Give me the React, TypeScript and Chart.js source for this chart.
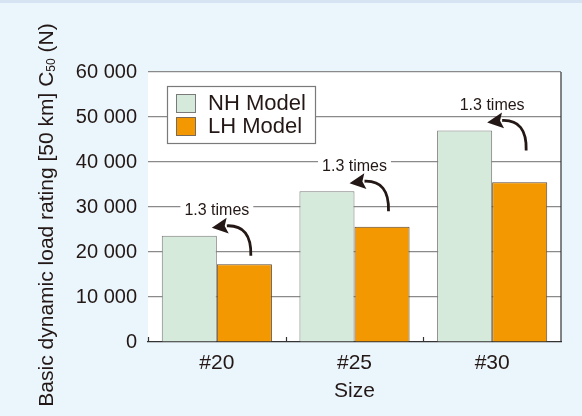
import React, { useEffect, useRef } from "react";
import { Chart, registerables } from "chart.js";

Chart.register(...registerables);

const categories = ["#20", "#25", "#30"];
const nhValues = [23600, 33500, 47000];
const lhValues = [17300, 25600, 35500];
const seriesNames = ["NH Model", "LH Model"];
const ratioLabels = ["1.3 times", "1.3 times", "1.3 times"];
const yTicks = [0, 10000, 20000, 30000, 40000, 50000, 60000];

const FONT = "'Liberation Sans', Arial, Helvetica, sans-serif";
const INK = "#231815";
const NH_FILL = "#d5eadb";
const LH_FILL = "#f39800";

function fmt(v: number): string {
  if (v === 0) return "0";
  return `${Math.round(v / 1000)} 000`;
}

const customPlugin = {
  id: "custom",
  beforeDraw(chart: any) {
    const { ctx, chartArea: a } = chart;
    ctx.save();
    ctx.fillStyle = "#ffffff";
    ctx.fillRect(a.left, a.top, a.right - a.left, a.bottom - a.top);
    ctx.restore();
  },
  afterDatasetsDraw(chart: any) {
    const { ctx, chartArea: a, scales } = chart;
    const xs = scales.x;
    const ys = scales.y;
    ctx.save();
    // right border
    ctx.strokeStyle = "#333333";
    ctx.lineWidth = 1.2;
    ctx.beginPath();
    ctx.moveTo(a.right, a.top);
    ctx.lineTo(a.right, a.bottom);
    ctx.stroke();
    // inner ticks at category boundaries
    for (let i = 0; i <= categories.length - 1; i++) {
      const x = Math.round(xs.getPixelForValue(i - 0.5)) + 0.5;
      ctx.beginPath();
      ctx.moveTo(x, a.bottom);
      ctx.lineTo(x, a.bottom - 5);
      ctx.stroke();
    }

    // annotations
    ctx.font = `16px ${FONT}`;
    ctx.textAlign = "center";
    ctx.textBaseline = "middle";
    for (let i = 0; i < categories.length; i++) {
      const cx = xs.getPixelForValue(i);
      const top = ys.getPixelForValue(nhValues[i]);
      const label = ratioLabels[i];
      const ty = top - 26;
      const w = ctx.measureText(label).width;
      ctx.fillStyle = "#ffffff";
      ctx.fillRect(cx - w / 2 - 4, ty - 8, w + 8, 16);
      ctx.fillStyle = INK;
      ctx.fillText(label, cx, ty + 1);

      // curved arrow
      const sx = cx + 34;
      const sy = top + 20;
      const ex = cx + 10;
      const ey = top - 10;
      ctx.strokeStyle = INK;
      ctx.lineWidth = 2.8;
      ctx.beginPath();
      ctx.moveTo(sx, sy);
      ctx.quadraticCurveTo(sx + 1, ey - 1, ex, ey);
      ctx.stroke();
      // arrowhead
      const tipX = cx - 5;
      const tipY = top - 8;
      const ang = Math.atan2(tipY - ey, tipX - ex);
      const L = 16;
      const W = 8;
      const bx = tipX - Math.cos(ang) * L;
      const by = tipY - Math.sin(ang) * L;
      ctx.fillStyle = INK;
      ctx.beginPath();
      ctx.moveTo(tipX, tipY);
      ctx.lineTo(bx - Math.sin(ang) * W, by + Math.cos(ang) * W);
      ctx.lineTo(bx + Math.cos(ang) * 3, by + Math.sin(ang) * 3);
      ctx.lineTo(bx + Math.sin(ang) * W, by - Math.cos(ang) * W);
      ctx.closePath();
      ctx.fill();
    }

    // legend box
    const lx = 167;
    const lyTop = 83;
    const lw = 148;
    const lh = 57;
    ctx.fillStyle = "#ffffff";
    ctx.fillRect(lx, lyTop, lw, lh);
    ctx.strokeStyle = "#7a7a7a";
    ctx.lineWidth = 1.2;
    ctx.strokeRect(lx + 0.5, lyTop + 0.5, lw, lh);
    const fills = [NH_FILL, LH_FILL];
    const borders = ["#7a7a7a", "#7a6a5a"];
    ctx.font = `22px ${FONT}`;
    ctx.textAlign = "left";
    ctx.textBaseline = "middle";
    for (let i = 0; i < seriesNames.length; i++) {
      const rowY = 100 + i * 23;
      ctx.fillStyle = fills[i];
      ctx.fillRect(176, rowY - 9, 20, 19);
      ctx.strokeStyle = borders[i];
      ctx.lineWidth = 1;
      ctx.strokeRect(176.5, rowY - 8.5, 19, 18);
      ctx.fillStyle = INK;
      ctx.fillText(seriesNames[i], 208, rowY + 1);
    }
    ctx.restore();
  },
  afterDraw(chart: any) {
    const { ctx } = chart;
    ctx.save();
    ctx.translate(47, 212);
    ctx.rotate(-Math.PI / 2);
    ctx.fillStyle = INK;
    ctx.textBaseline = "middle";
    ctx.textAlign = "left";
    const p1 = "Basic dynamic load rating [50 km] C";
    const p2 = "50";
    const p3 = " (N)";
    const big = `21px ${FONT}`;
    const small = `12px ${FONT}`;
    ctx.font = big;
    const w1 = ctx.measureText(p1).width;
    const w3 = ctx.measureText(p3).width;
    ctx.font = small;
    const w2 = ctx.measureText(p2).width;
    const total = w1 + w2 + w3;
    let x = -total / 2;
    ctx.font = big;
    ctx.fillText(p1, x, 0);
    x += w1;
    ctx.font = small;
    ctx.fillText(p2, x, 5);
    x += w2;
    ctx.font = big;
    ctx.fillText(p3, x, 0);
    ctx.restore();
  },
};

export default function App() {
  const ref = useRef<HTMLCanvasElement | null>(null);
  useEffect(() => {
    if (!ref.current) return;
    const chart = new Chart(ref.current, {
      type: "bar",
      data: {
        labels: categories,
        datasets: [
          {
            label: seriesNames[0],
            data: nhValues,
            backgroundColor: NH_FILL,
            borderColor: "#7a7a7a",
            borderWidth: 1,
          },
          {
            label: seriesNames[1],
            data: lhValues,
            backgroundColor: LH_FILL,
            borderColor: "#5a4a3a",
            borderWidth: 1,
          },
        ],
      },
      options: {
        responsive: false,
        animation: false,
        devicePixelRatio: 1,
        layout: { padding: { top: 69, right: 21, left: 0, bottom: 0 } },
        plugins: {
          legend: { display: false },
          tooltip: { enabled: false },
        },
        datasets: {
          bar: { categoryPercentage: 0.8, barPercentage: 1.0 },
        },
        scales: {
          x: {
            type: "category",
            grid: { display: false, drawTicks: false },
            border: { display: true, color: "#333333", width: 1.2 },
            ticks: {
              color: INK,
              font: { family: FONT, size: 21 },
              padding: 9,
            },
            title: {
              display: true,
              text: "Size",
              color: INK,
              font: { family: FONT, size: 21 },
              padding: { top: 0, bottom: 12 },
            },
            afterFit: (s: any) => {
              s.height = 74;
            },
          },
          y: {
            min: 0,
            max: 60000,
            afterBuildTicks: (s: any) => {
              s.ticks = yTicks.map((v) => ({ value: v }));
            },
            grid: {
              drawTicks: false,
              color: (c: any) => (c.tick && c.tick.value === 0 ? "rgba(0,0,0,0)" : "#8a8a8a"),
              lineWidth: 1.2,
            },
            border: { display: false },
            ticks: {
              color: INK,
              font: { family: FONT, size: 20 },
              padding: 11,
              callback: (v: any) => fmt(Number(v)),
            },
            afterFit: (s: any) => {
              s.width = 148;
            },
          },
        },
      },
      plugins: [customPlugin],
    } as any);
    return () => chart.destroy();
  }, []);

  return (
    <div
      style={{
        position: "fixed",
        left: 0,
        top: 0,
        width: 582,
        height: 416,
        background: "#eaf5fc",
        borderTop: "3px solid #d5e3f2",
        boxSizing: "border-box",
        overflow: "hidden",
      }}
    >
      <canvas
        ref={ref}
        width={582}
        height={413}
        style={{ display: "block", width: 582, height: 413 }}
      />
    </div>
  );
}
